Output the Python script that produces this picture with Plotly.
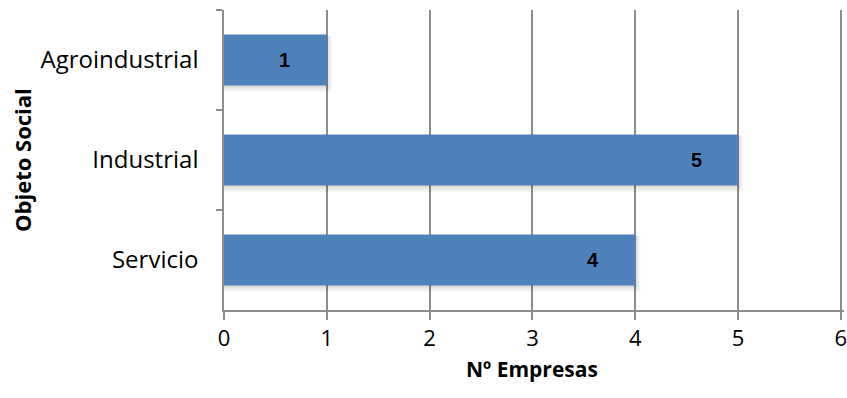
import plotly.graph_objects as go

# Number of companies per corporate purpose
categorias = ["Agroindustrial", "Industrial", "Servicio"]
empresas = [1, 5, 4]
x_ticks = [0, 1, 2, 3, 4, 5, 6]

BAR_COLOR = "#4F81BD"
GRID = "#8C8C8C"
BAR_W = 0.51

fig = go.Figure()

# Soft drop shadow built from a few translucent layers behind each bar
for k in range(1, 5):
    fig.add_trace(go.Bar(
        y=categorias, x=[v + 0.012 * k for v in empresas],
        orientation="h", width=BAR_W + 0.012 * k,
        offset=-BAR_W / 2 + 0.004 * k,
        marker=dict(color="rgba(0,0,0,0.035)", line=dict(width=0)),
        hoverinfo="skip", showlegend=False,
    ))

fig.add_trace(go.Bar(
    y=categorias, x=empresas, orientation="h", width=BAR_W,
    offset=-BAR_W / 2,
    marker=dict(color=BAR_COLOR, line=dict(width=0)),
    showlegend=False,
))

# Value labels inside the end of each bar
for cat, v in zip(categorias, empresas):
    fig.add_annotation(
        x=v, y=cat, xref="x", yref="y", text=f"<b>{v}</b>", showarrow=False,
        xshift=-42, xanchor="center", yanchor="middle",
        font=dict(family="Liberation Sans", size=20, color="#000"),
    )

# Axis titles
fig.add_annotation(
    x=0.496, y=0, xref="paper", yref="paper", yshift=-59,
    text="<b>Nº Empresas</b>", showarrow=False,
    xanchor="center", yanchor="middle",
    font=dict(family="Open Sans", size=21, color="#000"),
)
fig.add_annotation(
    x=0, y=0.5, xref="paper", yref="paper", xshift=-202,
    text="<b>Objeto Social</b>", showarrow=False, textangle=-90,
    xanchor="center", yanchor="middle",
    font=dict(family="Open Sans", size=22, color="#000"),
)

fig.update_layout(
    width=847, height=398,
    margin=dict(l=224, r=0, t=10, b=88),
    paper_bgcolor="white", plot_bgcolor="white",
    barmode="overlay",
    font=dict(family="Open Sans", color="#000"),
    xaxis=dict(
        range=[0, 6.03], tickvals=x_ticks, ticktext=[str(t) for t in x_ticks],
        ticklabeloverflow="allow",
        showgrid=True, gridcolor=GRID, gridwidth=1.5,
        showline=True, linecolor=GRID, linewidth=1.5,
        ticks="outside", ticklen=8, tickcolor=GRID, tickwidth=1.5,
        tickfont=dict(family="Open Sans", size=22, color="#000"),
        zeroline=False, fixedrange=True,
    ),
    yaxis=dict(
        categoryorder="array", categoryarray=categorias, autorange="reversed",
        showline=True, linecolor=GRID, linewidth=1.5,
        ticks="outside", tickson="boundaries", ticklen=6,
        tickcolor=GRID, tickwidth=1.5,
        tickfont=dict(family="Open Sans", size=24, color="#000"),
        ticklabelstandoff=19,
        showgrid=False, fixedrange=True,
    ),
)

fig.write_html("out.html")
